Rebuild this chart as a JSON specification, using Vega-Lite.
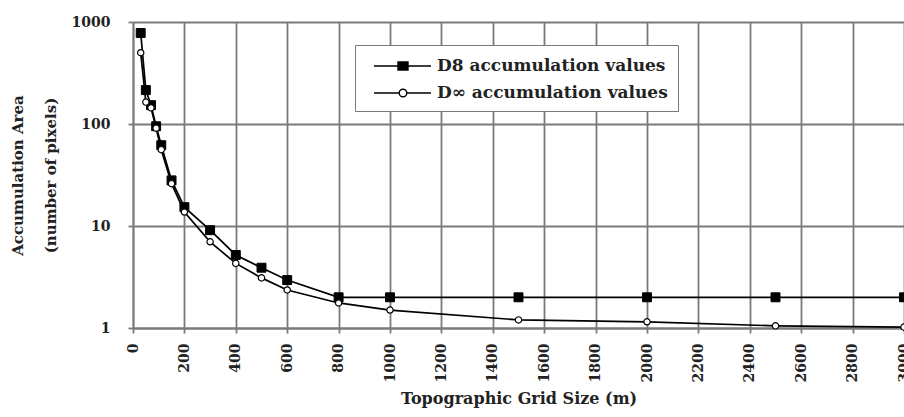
{
  "$schema": "https://vega.github.io/schema/vega-lite/v6.json",
  "width": 771,
  "height": 306,
  "autosize": {"type": "none"},
  "padding": {"left": 133, "top": 22, "right": 0, "bottom": 89},
  "background": "white",
  "config": {"view": {"stroke": null}, "font": "DejaVu Serif"},
  "data": {
    "values": [
      {"series": "D8 accumulation values", "size": 30, "area": 780},
      {"series": "D8 accumulation values", "size": 50, "area": 215},
      {"series": "D8 accumulation values", "size": 70, "area": 153},
      {"series": "D8 accumulation values", "size": 90, "area": 95},
      {"series": "D8 accumulation values", "size": 110, "area": 62},
      {"series": "D8 accumulation values", "size": 150, "area": 28},
      {"series": "D8 accumulation values", "size": 200, "area": 15.3},
      {"series": "D8 accumulation values", "size": 300, "area": 9.1},
      {"series": "D8 accumulation values", "size": 400, "area": 5.2},
      {"series": "D8 accumulation values", "size": 500, "area": 3.9},
      {"series": "D8 accumulation values", "size": 600, "area": 2.95},
      {"series": "D8 accumulation values", "size": 800, "area": 2},
      {"series": "D8 accumulation values", "size": 1000, "area": 2},
      {"series": "D8 accumulation values", "size": 1500, "area": 2},
      {"series": "D8 accumulation values", "size": 2000, "area": 2},
      {"series": "D8 accumulation values", "size": 2500, "area": 2},
      {"series": "D8 accumulation values", "size": 3000, "area": 2},
      {"series": "D∞ accumulation values", "size": 30, "area": 500},
      {"series": "D∞ accumulation values", "size": 50, "area": 164},
      {"series": "D∞ accumulation values", "size": 70, "area": 144},
      {"series": "D∞ accumulation values", "size": 90, "area": 91},
      {"series": "D∞ accumulation values", "size": 110, "area": 56},
      {"series": "D∞ accumulation values", "size": 150, "area": 26},
      {"series": "D∞ accumulation values", "size": 200, "area": 13.7},
      {"series": "D∞ accumulation values", "size": 300, "area": 7.0},
      {"series": "D∞ accumulation values", "size": 400, "area": 4.3},
      {"series": "D∞ accumulation values", "size": 500, "area": 3.1},
      {"series": "D∞ accumulation values", "size": 600, "area": 2.36},
      {"series": "D∞ accumulation values", "size": 800, "area": 1.76},
      {"series": "D∞ accumulation values", "size": 1000, "area": 1.5},
      {"series": "D∞ accumulation values", "size": 1500, "area": 1.2},
      {"series": "D∞ accumulation values", "size": 2000, "area": 1.15},
      {"series": "D∞ accumulation values", "size": 2500, "area": 1.05},
      {"series": "D∞ accumulation values", "size": 3000, "area": 1.02}
    ]
  },
  "encoding": {
    "x": {
      "field": "size",
      "type": "quantitative",
      "scale": {"domain": [0, 3000], "nice": false},
      "axis": {
        "values": [0, 200, 400, 600, 800, 1000, 1200, 1400, 1600, 1800, 2000, 2200, 2400, 2600, 2800, 3000],
        "format": "d",
        "grid": true,
        "gridColor": "#7a7a7a",
        "gridWidth": 1.8,
        "gridOpacity": 1,
        "domainColor": "#7a7a7a",
        "domainWidth": 1.8,
        "tickColor": "#7a7a7a",
        "tickWidth": 1.8,
        "tickSize": 5,
        "labelAngle": -90,
        "labelFont": "DejaVu Serif",
        "labelFontWeight": "bold",
        "labelFontSize": 14,
        "labelColor": "#222222",
        "labelPadding": 10,
        "labelFlush": false,
        "labelOverlap": false,
        "title": "Topographic Grid Size (m)",
        "titleFont": "DejaVu Serif",
        "titleFontSize": 16,
        "titleFontWeight": "bold",
        "titleColor": "#222222",
        "titleY": 70,
        "titleBaseline": "middle"
      }
    },
    "y": {
      "field": "area",
      "type": "quantitative",
      "scale": {"type": "log", "domain": [1, 1000], "nice": false},
      "axis": {
        "values": [1, 10, 100, 1000],
        "format": "d",
        "grid": true,
        "gridColor": "#7a7a7a",
        "gridWidth": 1.8,
        "gridOpacity": 1,
        "domainColor": "#7a7a7a",
        "domainWidth": 1.8,
        "tickColor": "#7a7a7a",
        "tickWidth": 1.8,
        "tickSize": 5,
        "labelFont": "DejaVu Serif",
        "labelFontWeight": "bold",
        "labelFontSize": 14,
        "labelColor": "#222222",
        "labelPadding": 18,
        "title": ["Accumulation Area", "(number of pixels)"],
        "titleFont": "DejaVu Serif",
        "titleFontSize": 15,
        "titleFontWeight": "bold",
        "titleColor": "#222222",
        "titleLineHeight": 33,
        "titleAngle": -90,
        "titleAlign": "center",
        "titleBaseline": "middle",
        "titleX": -116,
        "titleY": 153
      }
    }
  },
  "layer": [
    {
      "mark": {"type": "line", "color": "black", "strokeWidth": 1.7},
      "encoding": {"detail": {"field": "series", "type": "nominal"}}
    },
    {
      "transform": [{"filter": "datum.series == 'D8 accumulation values'"}],
      "mark": {"type": "point", "shape": "square", "filled": true, "fill": "black", "stroke": "black", "strokeWidth": 1, "size": 80, "opacity": 1}
    },
    {
      "transform": [{"filter": "datum.series == 'D∞ accumulation values'"}],
      "mark": {"type": "point", "shape": "circle", "filled": true, "fill": "white", "stroke": "black", "strokeWidth": 1.2, "size": 40, "opacity": 1}
    },
    {
      "transform": [{"filter": "datum.size < 0"}],
      "mark": {"type": "point", "filled": true, "strokeWidth": 1.4, "size": 400, "opacity": 1},
      "encoding": {
        "shape": {
          "field": "series",
          "type": "nominal",
          "scale": {
            "domain": ["D8 accumulation values", "D∞ accumulation values"],
            "range": [
              "M-0.2,0H5.5M2.2,-0.4H3.2V0.4H2.2Z",
              "M-0.2,0H2.32M3.08,0H5.5M3.08,0A0.38,0.38 0 1,1 2.32,0A0.38,0.38 0 1,1 3.08,0"
            ]
          },
          "legend": {
            "title": null,
            "orient": "none",
            "legendX": 222,
            "legendY": 23,
            "fillColor": "white",
            "strokeColor": "#7a7a7a",
            "padding": 10,
            "labelFont": "DejaVu Serif",
            "labelFontSize": 17,
            "labelFontWeight": "bold",
            "labelColor": "#222222",
            "labelOffset": 50,
            "labelLimit": 400,
            "rowPadding": 8,
            "symbolSize": 400,
            "symbolStrokeWidth": 1.4,
            "symbolStrokeColor": "black",
            "symbolOpacity": 1,
            "encode": {"legend": {"strokeWidth": {"value": 2}}}
          }
        },
        "fill": {
          "field": "series",
          "type": "nominal",
          "scale": {
            "domain": ["D8 accumulation values", "D∞ accumulation values"],
            "range": ["black", "white"]
          },
          "legend": {"title": null, "orient": "none", "legendX": 222, "legendY": 23}
        },
        "stroke": {
          "field": "series",
          "type": "nominal",
          "scale": {
            "domain": ["D8 accumulation values", "D∞ accumulation values"],
            "range": ["black", "black"]
          },
          "legend": {"title": null, "orient": "none", "legendX": 222, "legendY": 23}
        }
      }
    }
  ]
}
